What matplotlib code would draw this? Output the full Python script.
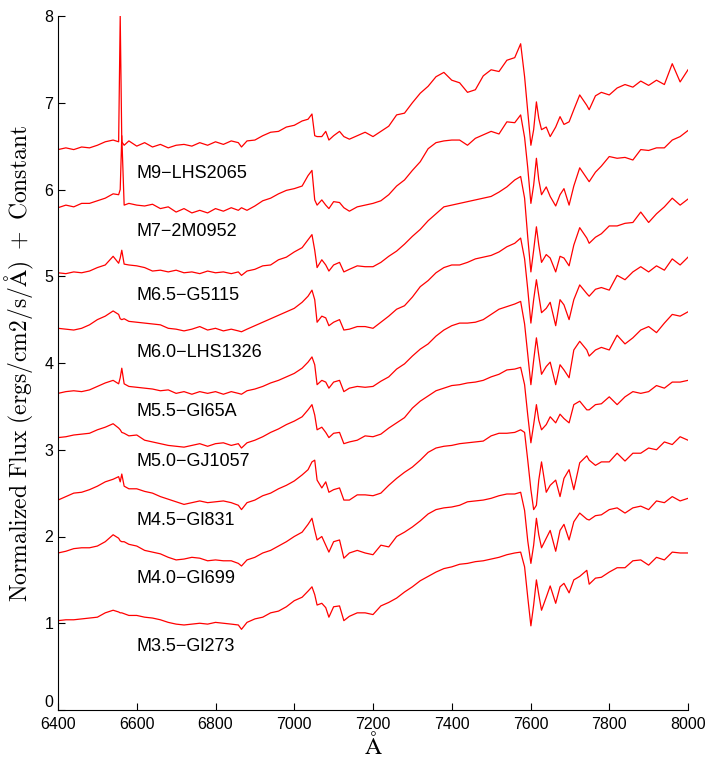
import numpy as np
import matplotlib
matplotlib.use('Agg')
import matplotlib.pyplot as plt

# wavelength grid (Angstrom) shared by all spectra
wave = [6400, 6420, 6440, 6460, 6480, 6500, 6520, 6540, 6554, 6558,
        6562, 6568, 6580, 6600, 6620, 6640, 6660, 6680, 6700, 6720,
        6740, 6760, 6780, 6800, 6820, 6840, 6858, 6866, 6880, 6900,
        6920, 6940, 6960, 6980, 7000, 7020, 7035, 7045, 7052, 7058,
        7070, 7080, 7088, 7100, 7115, 7126, 7140, 7160, 7180, 7200,
        7220, 7240, 7260, 7280, 7300, 7320, 7340, 7360, 7380, 7400,
        7420, 7440, 7460, 7480, 7500, 7520, 7540, 7560, 7575, 7585,
        7593, 7601, 7608, 7615, 7621, 7628, 7640, 7650, 7664, 7675,
        7685, 7698, 7710, 7725, 7743, 7749, 7765, 7780, 7800, 7820,
        7840, 7860, 7880, 7900, 7920, 7940, 7960, 7980, 8000]

# normalized flux + constant
m9_lhs2065 = [6.46, 6.48, 6.46, 6.49, 6.48, 6.51, 6.55, 6.57, 6.55, 8.00,
              6.55, 6.51, 6.56, 6.50, 6.54, 6.49, 6.52, 6.48, 6.51, 6.52,
              6.50, 6.54, 6.51, 6.55, 6.52, 6.56, 6.54, 6.49, 6.56, 6.57,
              6.62, 6.66, 6.67, 6.72, 6.74, 6.79, 6.81, 6.87, 6.62, 6.61,
              6.61, 6.67, 6.57, 6.62, 6.67, 6.61, 6.58, 6.62, 6.66, 6.61,
              6.67, 6.73, 6.86, 6.88, 7.00, 7.11, 7.19, 7.30, 7.35, 7.26,
              7.23, 7.12, 7.15, 7.31, 7.38, 7.36, 7.49, 7.52, 7.68, 7.30,
              6.90, 6.51, 6.69, 7.01, 6.82, 6.69, 6.72, 6.61, 6.72, 6.84,
              6.75, 6.78, 6.92, 7.09, 6.97, 6.92, 7.08, 7.12, 7.09, 7.17,
              7.21, 7.18, 7.25, 7.20, 7.26, 7.21, 7.45, 7.24, 7.38]
m7_2m0952 = [5.79, 5.82, 5.80, 5.84, 5.84, 5.87, 5.90, 5.95, 5.94, 6.00,
             6.62, 5.82, 5.84, 5.82, 5.81, 5.83, 5.78, 5.80, 5.74, 5.78,
             5.73, 5.76, 5.73, 5.78, 5.75, 5.79, 5.76, 5.79, 5.76, 5.81,
             5.87, 5.90, 5.95, 5.99, 6.01, 6.04, 6.16, 6.22, 5.88, 5.82,
             5.88, 5.82, 5.78, 5.86, 5.85, 5.79, 5.75, 5.80, 5.82, 5.84,
             5.87, 5.94, 6.04, 6.11, 6.22, 6.32, 6.47, 6.54, 6.56, 6.57,
             6.57, 6.51, 6.59, 6.63, 6.67, 6.64, 6.78, 6.77, 6.86, 6.60,
             6.25, 5.84, 6.05, 6.36, 6.11, 5.94, 6.03, 5.92, 5.81, 5.94,
             6.01, 5.82, 6.04, 6.25, 6.13, 6.09, 6.20, 6.27, 6.38, 6.36,
             6.37, 6.34, 6.46, 6.45, 6.48, 6.48, 6.57, 6.61, 6.68]
m65_g5115 = [5.04, 5.03, 5.05, 5.04, 5.06, 5.10, 5.13, 5.23, 5.15, 5.21,
             5.30, 5.14, 5.13, 5.12, 5.10, 5.06, 5.07, 5.05, 5.07, 5.04,
             5.05, 5.03, 5.06, 5.04, 5.05, 5.03, 5.05, 5.01, 5.06, 5.08,
             5.12, 5.13, 5.19, 5.22, 5.28, 5.33, 5.42, 5.48, 5.30, 5.10,
             5.19, 5.13, 5.06, 5.13, 5.16, 5.05, 5.08, 5.12, 5.11, 5.11,
             5.16, 5.23, 5.29, 5.37, 5.46, 5.54, 5.64, 5.72, 5.80, 5.82,
             5.84, 5.86, 5.88, 5.90, 5.92, 5.97, 6.03, 6.11, 6.15, 5.90,
             5.45, 5.05, 5.30, 5.57, 5.36, 5.16, 5.25, 5.21, 5.05, 5.23,
             5.21, 5.12, 5.36, 5.56, 5.44, 5.38, 5.45, 5.49, 5.58, 5.58,
             5.61, 5.62, 5.74, 5.62, 5.72, 5.80, 5.90, 5.82, 5.89]
m60_lhs1326 = [4.40, 4.39, 4.38, 4.40, 4.44, 4.50, 4.54, 4.60, 4.56, 4.51,
               4.50, 4.51, 4.48, 4.47, 4.46, 4.45, 4.44, 4.40, 4.39, 4.37,
               4.39, 4.42, 4.38, 4.40, 4.37, 4.39, 4.37, 4.36, 4.39, 4.43,
               4.47, 4.51, 4.55, 4.59, 4.63, 4.70, 4.77, 4.84, 4.73, 4.47,
               4.54, 4.52, 4.43, 4.47, 4.50, 4.38, 4.39, 4.42, 4.42, 4.40,
               4.47, 4.54, 4.62, 4.66, 4.76, 4.88, 4.95, 5.04, 5.10, 5.13,
               5.13, 5.16, 5.20, 5.22, 5.24, 5.28, 5.34, 5.38, 5.44, 5.20,
               4.85, 4.46, 4.73, 4.96, 4.78, 4.58, 4.63, 4.70, 4.43, 4.73,
               4.67, 4.50, 4.73, 4.90, 4.80, 4.77, 4.85, 4.87, 4.84, 5.01,
               4.96, 5.05, 5.11, 5.05, 5.12, 5.07, 5.20, 5.13, 5.22]
m55_gl65a = [3.65, 3.67, 3.68, 3.67, 3.69, 3.73, 3.77, 3.80, 3.76, 3.83,
             3.94, 3.76, 3.73, 3.72, 3.71, 3.70, 3.68, 3.69, 3.65, 3.67,
             3.64, 3.67, 3.65, 3.67, 3.64, 3.67, 3.65, 3.64, 3.68, 3.70,
             3.73, 3.77, 3.80, 3.84, 3.88, 3.94, 4.01, 4.07, 3.98, 3.75,
             3.80, 3.78, 3.71, 3.78, 3.80, 3.67, 3.71, 3.73, 3.72, 3.73,
             3.79, 3.84, 3.93, 3.99, 4.08, 4.16, 4.22, 4.31, 4.38, 4.43,
             4.46, 4.46, 4.47, 4.50, 4.56, 4.62, 4.65, 4.68, 4.71, 4.45,
             4.10, 3.75, 4.03, 4.29, 4.09, 3.87, 3.96, 4.01, 3.75, 3.98,
             3.92, 3.83, 4.15, 4.25, 4.15, 4.08, 4.15, 4.18, 4.15, 4.32,
             4.22, 4.29, 4.38, 4.42, 4.35, 4.46, 4.56, 4.54, 4.59]
m50_gj1057 = [3.14, 3.15, 3.17, 3.18, 3.19, 3.23, 3.26, 3.30, 3.25, 3.23,
              3.20, 3.19, 3.16, 3.17, 3.11, 3.09, 3.07, 3.05, 3.04, 3.03,
              3.05, 3.07, 3.04, 3.07, 3.08, 3.05, 3.07, 3.02, 3.08, 3.11,
              3.15, 3.20, 3.24, 3.29, 3.33, 3.38, 3.46, 3.52, 3.40, 3.23,
              3.26, 3.20, 3.14, 3.19, 3.20, 3.07, 3.09, 3.11, 3.16, 3.15,
              3.18, 3.25, 3.31, 3.37, 3.48, 3.56, 3.62, 3.68, 3.71, 3.74,
              3.75, 3.77, 3.78, 3.80, 3.84, 3.87, 3.92, 3.93, 3.95, 3.75,
              3.40, 3.08, 3.29, 3.52, 3.34, 3.23, 3.29, 3.38, 3.31, 3.41,
              3.36, 3.31, 3.52, 3.56, 3.46, 3.46, 3.52, 3.53, 3.61, 3.52,
              3.61, 3.67, 3.65, 3.67, 3.74, 3.71, 3.78, 3.78, 3.80]
m45_gl831 = [2.42, 2.46, 2.50, 2.51, 2.54, 2.58, 2.63, 2.66, 2.69, 2.63,
             2.72, 2.58, 2.55, 2.55, 2.52, 2.50, 2.46, 2.43, 2.40, 2.37,
             2.39, 2.41, 2.39, 2.40, 2.41, 2.39, 2.36, 2.31, 2.39, 2.42,
             2.47, 2.50, 2.55, 2.59, 2.64, 2.71, 2.77, 2.86, 2.88, 2.65,
             2.56, 2.63, 2.51, 2.54, 2.56, 2.42, 2.42, 2.48, 2.48, 2.47,
             2.50, 2.59, 2.67, 2.74, 2.80, 2.88, 2.97, 3.02, 3.04, 3.05,
             3.07, 3.08, 3.09, 3.10, 3.16, 3.19, 3.19, 3.20, 3.23, 3.20,
             2.88, 2.54, 2.31, 2.36, 2.65, 2.86, 2.51, 2.59, 2.65, 2.46,
             2.67, 2.77, 2.54, 2.85, 2.93, 2.88, 2.82, 2.86, 2.86, 2.96,
             2.87, 2.96, 2.96, 3.02, 3.00, 3.09, 3.06, 3.15, 3.11]
m40_gl699 = [1.81, 1.83, 1.86, 1.87, 1.87, 1.89, 1.94, 2.02, 1.98, 1.95,
             1.94, 1.94, 1.91, 1.89, 1.84, 1.82, 1.80, 1.76, 1.73, 1.74,
             1.76, 1.75, 1.72, 1.73, 1.72, 1.72, 1.69, 1.66, 1.73, 1.76,
             1.81, 1.84, 1.89, 1.94, 2.00, 2.05, 2.14, 2.21, 2.07, 1.96,
             2.00, 1.90, 1.82, 1.94, 1.96, 1.75, 1.81, 1.84, 1.81, 1.79,
             1.90, 1.88, 2.00, 2.05, 2.11, 2.18, 2.26, 2.31, 2.33, 2.34,
             2.36, 2.40, 2.41, 2.42, 2.44, 2.47, 2.49, 2.49, 2.51, 2.30,
             1.95, 1.69, 1.90, 2.21, 2.02, 1.87, 1.98, 2.07, 1.83, 2.07,
             2.14, 1.96, 2.17, 2.27, 2.20, 2.19, 2.24, 2.25, 2.31, 2.33,
             2.27, 2.33, 2.35, 2.31, 2.41, 2.39, 2.46, 2.41, 2.44]
m35_gl273 = [1.03, 1.04, 1.04, 1.05, 1.06, 1.07, 1.12, 1.15, 1.13, 1.12,
             1.12, 1.11, 1.09, 1.09, 1.07, 1.06, 1.04, 1.01, 0.99, 0.98,
             0.99, 1.00, 0.99, 1.01, 1.00, 0.99, 0.98, 0.93, 1.01, 1.05,
             1.07, 1.12, 1.14, 1.19, 1.26, 1.30, 1.37, 1.42, 1.33, 1.21,
             1.23, 1.18, 1.07, 1.19, 1.20, 1.03, 1.08, 1.12, 1.12, 1.10,
             1.20, 1.24, 1.29, 1.36, 1.42, 1.49, 1.54, 1.59, 1.63, 1.65,
             1.68, 1.69, 1.71, 1.72, 1.74, 1.76, 1.79, 1.81, 1.82, 1.65,
             1.30, 0.97, 1.21, 1.50, 1.33, 1.15, 1.30, 1.43, 1.23, 1.42,
             1.46, 1.35, 1.50, 1.54, 1.61, 1.45, 1.52, 1.53, 1.59, 1.64,
             1.64, 1.72, 1.73, 1.67, 1.76, 1.73, 1.82, 1.81, 1.81]

spectra = [m9_lhs2065, m7_2m0952, m65_g5115, m60_lhs1326, m55_gl65a,
           m50_gj1057, m45_gl831, m40_gl699, m35_gl273]
names = ['M9\u2212LHS2065', 'M7\u22122M0952', 'M6.5\u2212G5115',
         'M6.0\u2212LHS1326', 'M5.5\u2212Gl65A', 'M5.0\u2212GJ1057',
         'M4.5\u2212Gl831', 'M4.0\u2212Gl699', 'M3.5\u2212Gl273']
label_y = [6.19, 5.52, 4.78, 4.12, 3.44, 2.86, 2.19, 1.52, 0.73]

plt.rcParams['mathtext.fontset'] = 'cm'

fig = plt.figure(figsize=(7.15, 7.62), dpi=100)
ax = fig.add_axes([58/715., 52/762., 630/715., 694/762.])

for flux in spectra:
    ax.plot(wave, flux, color='red', lw=0.9)

for name, ly in zip(names, label_y):
    ax.text(6600, ly, name, fontsize=13, family='Liberation Sans',
            ha='left', va='center')

ax.set_xlim(6400, 8000)
ax.set_ylim(0, 8)
ax.set_xticks(np.arange(6400, 8001, 200))
ax.set_yticks(np.arange(0, 9, 1))
ax.spines['top'].set_visible(False)
ax.spines['right'].set_visible(False)
ax.tick_params(direction='in', length=5, labelsize=11.5)
ax.tick_params(axis='x', pad=5)
for lab in ax.get_xticklabels() + ax.get_yticklabels():
    lab.set_family('Liberation Sans')
# the "0" sits a little above its tick, clear of "6400"
ax.get_yticklabels()[0].set_va('bottom')

ax.set_xlabel(r'$\mathrm{\AA}$', fontsize=17, labelpad=0)
ax.set_ylabel(r'$\mathrm{Normalized\ Flux\ (ergs/cm2/s/\AA)\ +\ Constant}$',
              fontsize=17, labelpad=6)

fig.savefig('out.png', dpi=100)
